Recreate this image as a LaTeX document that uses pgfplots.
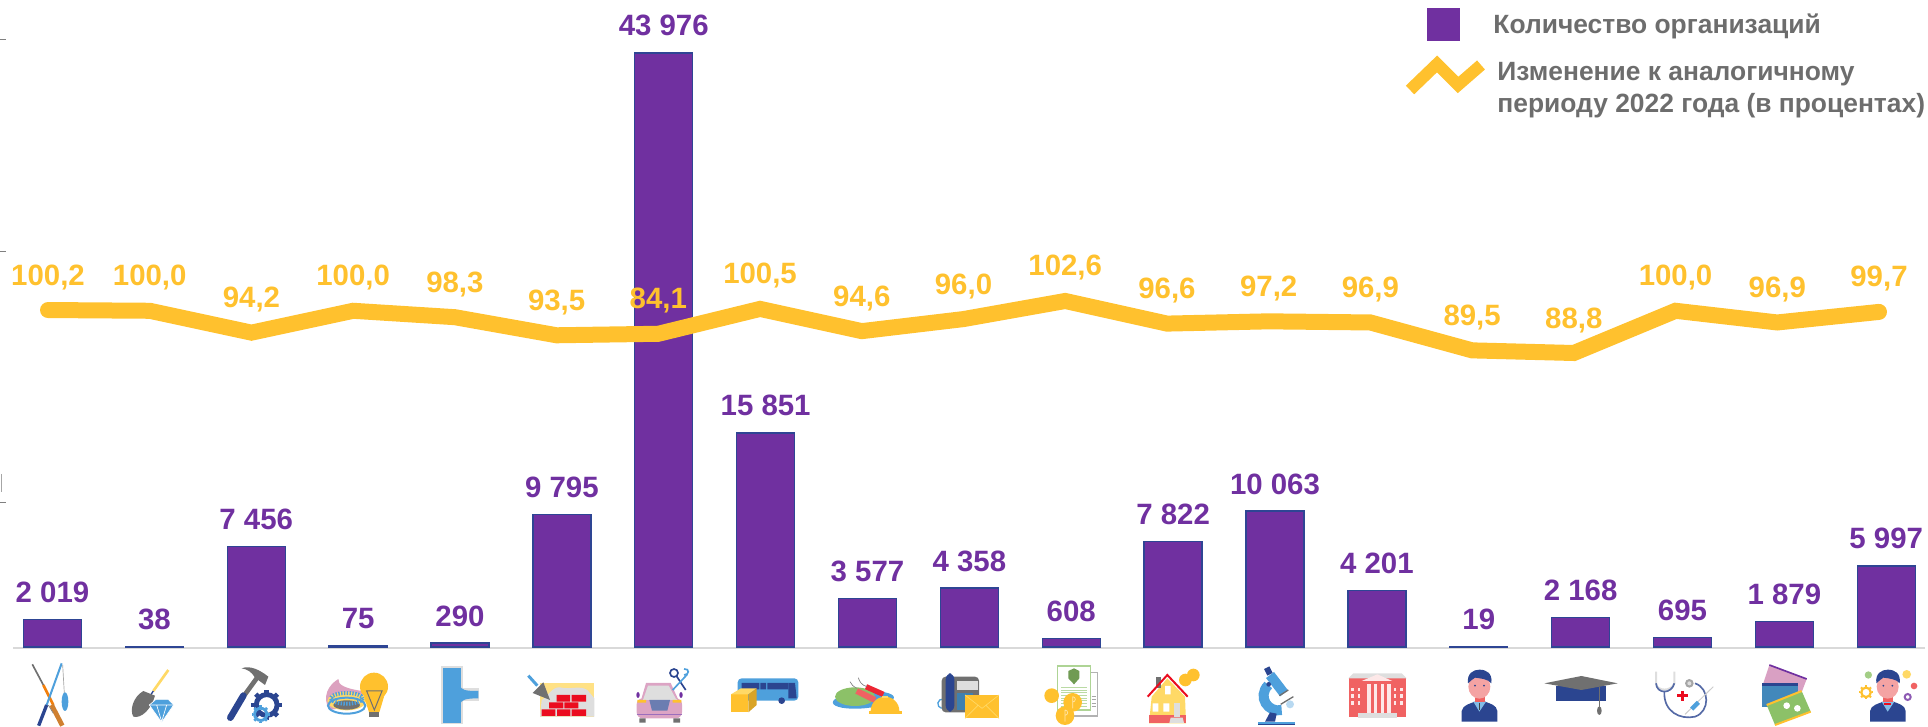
\documentclass[border=0pt]{standalone}
\usepackage{fontspec}
\setmainfont{Liberation Sans}
\usepackage{pgfplots}
\pgfplotsset{compat=1.18}

\definecolor{barpurple}{HTML}{7030A0}
\definecolor{baredge}{HTML}{2E4594}
\definecolor{lineyellow}{HTML}{FFC12E}
\definecolor{legendgray}{HTML}{6D6D6D}
\definecolor{icblue}{HTML}{2B4590}
\definecolor{iclight}{HTML}{4EA0DC}
\definecolor{icgray}{HTML}{707070}
\definecolor{icpale}{HTML}{DEDEDE}
\definecolor{icred}{HTML}{EB0C1F}
\definecolor{icrose}{HTML}{F06262}
\definecolor{icgreen}{HTML}{8CC168}
\definecolor{icpink}{HTML}{F4A3A3}
\definecolor{icsand}{HTML}{FFD966}

\tikzset{z/.style={line width=#1*0.16667pt}}
\newcommand{\gear}[4]{%
  \draw[#4,z=#3*0.32] (#1,#2) circle[radius=#3*0.68];
  \foreach \a in {0,45,...,315}
    \draw[#4,z=#3*0.3] ([shift={(#1,#2)}]\a:#3*0.8) -- ([shift={(#1,#2)}]\a:#3);
}
\newcommand{\man}{%
  \fill[icblue] (65,200) -- (65,168) .. controls (68,150) and (90,146) .. (105,140) -- (135,140)
    .. controls (150,146) and (170,150) .. (172,168) -- (172,200) -- cycle;
  \fill[iclight!70] (100,140) -- (118,170) -- (138,140) -- cycle;
  \fill[icrose] (104,118) rectangle (134,140);
  \fill[icpink] (118,95) ellipse [x radius=33, y radius=36];
  \fill[icblue] (84,85) .. controls (80,55) and (100,44) .. (118,44) .. controls (140,44) and (158,55) .. (154,85)
    .. controls (145,72) and (120,70) .. (105,68) .. controls (98,72) and (92,78) .. (84,85) -- cycle;
  \fill[icblue] (105,92) circle[radius=3] (132,92) circle[radius=3];
}

\begin{document}
\begin{tikzpicture}
  \useasboundingbox (0,0) rectangle (964pt,363.5pt);

  % marks in image pixels: ticks, base line, legend
  \begin{scope}[x=0.5pt,y=-0.5pt,shift={(0pt,363.5pt)}]
    \draw[gray,line width=0.5pt] (0,40) -- (6,40) (0,252) -- (6,252) (0,503) -- (6,503);
    \draw[gray!70,line width=0.4pt] (1,474) -- (1,492);
    \draw[black!15,line width=0.75pt] (13,648) -- (1925,648);
    \fill[barpurple] (1427,8) rectangle (1460,41);
    \draw[lineyellow,line width=6pt] (1410,90) -- (1437,64) -- (1458,85) -- (1481,65);
    \node[anchor=base west,inner sep=0,text=legendgray,font=\fontsize{13.2}{13.2}\selectfont\bfseries] at (1493,34) {Количество организаций};
    \node[anchor=base west,inner sep=0,text=legendgray,font=\fontsize{13.2}{13.2}\selectfont\bfseries] at (1497,81) {Изменение к аналогичному};
    \node[anchor=base west,inner sep=0,text=legendgray,font=\fontsize{13.2}{13.2}\selectfont\bfseries] at (1497,113) {периоду 2022 года (в процентах)};
  \end{scope}

  \begin{axis}[
    at={(0pt,0pt)}, anchor=south west,
    scale only axis, width=964pt, height=363.5pt,
    hide axis, clip=false,
    ybar, bar width=29pt,
    xmin=-0.5156, xmax=18.41,
    ymin=-5922, ymax=47898,
    point meta=explicit symbolic,
    nodes near coords,
    nodes near coords align={anchor=base,yshift=8.5pt},
    nodes near coords style={inner sep=0pt,text=barpurple,font=\fontsize{14.7}{14.7}\selectfont\bfseries},
  ]
    \addplot [fill=barpurple, draw=baredge, line width=0.7pt] coordinates {
      (0,2019)   [2 019]
      (1,38)     [38]
      (2,7456)   [7 456]
      (3,75)     [75]
      (4,290)    [290]
      (5,9795)   [9 795]
      (6,43976)  [43 976]
      (7,15851)  [15 851]
      (8,3577)   [3 577]
      (9,4358)   [4 358]
      (10,608)   [608]
      (11,7822)  [7 822]
      (12,10063) [10 063]
      (13,4201)  [4 201]
      (14,19)    [19]
      (15,2168)  [2 168]
      (16,695)   [695]
      (17,1879)  [1 879]
      (18,5997)  [5 997]
    };
  \end{axis}

  % the line sits on its own scale; two points are drawn away from their printed value
  \begin{axis}[
    at={(0pt,0pt)}, anchor=south west,
    scale only axis, width=964pt, height=363.5pt,
    hide axis, clip=false,
    xmin=-0.472, xmax=18.482,
    ymin=-10.4, ymax=182.44,
    point meta=explicit symbolic,
    nodes near coords,
    nodes near coords align={anchor=base,yshift=12.5pt},
    nodes near coords style={inner sep=0pt,text=lineyellow,font=\fontsize{14.7}{14.7}\selectfont\bfseries},
  ]
    \addplot [lineyellow, line width=8pt, line cap=round, mark=none] coordinates {
      (0,100.2)  [100,2]
      (1,100.0)  [100,0]
      (2,94.2)   [94,2]
      (3,100.0)  [100,0]
      (4,98.3)   [98,3]
      (5,93.5)   [93,5]
      (6,93.9)   [84,1]
      (7,100.5)  [100,5]
      (8,94.6)   [94,6]
      (9,97.8)   [96,0]
      (10,102.6) [102,6]
      (11,96.6)  [96,6]
      (12,97.2)  [97,2]
      (13,96.9)  [96,9]
      (14,89.5)  [89,5]
      (15,88.8)  [88,8]
      (16,100.0) [100,0]
      (17,96.9)  [96,9]
      (18,99.7)  [99,7]
    };
  \end{axis}

  % icons, strip 1
  \begin{scope}[x=0.16667pt,y=-0.16667pt,shift={(0pt,36pt)}]
    % fishing and hunting
    \draw[icgray,z=5] (97,28) -- (130,90);
    \draw[orange!80!brown,z=8] (130,90) -- (160,150);
    \draw[brown!75!orange,z=14] (155,150) -- (187,212);
    \draw[iclight,z=6] (185,25) -- (140,150);
    \draw[icblue,z=10] (140,150) -- (116,212);
    \draw[gray!70,z=2] (188,30) -- (193,115);
    \fill[iclight] (195,140) ellipse [x radius=10, y radius=28];
    \draw[gray,z=2] (145,150) -- (160,175);
    % mining
    \draw[icsand,z=8] (505,45) -- (460,108);
    \draw[icblue,z=4] (460,108) -- (432,150);
    \fill[icgray] (430,108) .. controls (400,125) and (388,165) .. (400,185) .. controls (425,192) and (455,160) .. (465,122) -- cycle;
    \fill[iclight,draw=white,z=2] (448,150) -- (468,133) -- (505,133) -- (521,150) -- (485,202) -- cycle;
    \draw[white,z=2] (448,150) -- (521,150) (470,150) -- (485,200) -- (500,150);
    % manufacturing
    \draw[icgray,z=14] (770,70) -- (730,125);
    \fill[icgray] (725,40) .. controls (750,30) and (780,45) .. (805,65) -- (795,90) -- (765,68) .. controls (755,50) and (740,42) .. (725,40) -- cycle;
    \draw[icblue,z=20,line cap=round] (730,122) -- (691,188);
    \gear{800}{150}{46}{icblue}
    \gear{782}{178}{27}{iclight}
    % gas and electricity
    \fill[icpink!60!violet!60] (988,165) .. controls (965,125) and (985,90) .. (1015,72) .. controls (1012,90) and (1040,102) .. (1088,108) -- (1090,150) -- cycle;
    \fill[icsand] (1040,138) ellipse [x radius=58, y radius=28];
    \draw[iclight,z=6] (1040,152) ellipse [x radius=56, y radius=24];
    \fill[icgray] (1040,150) ellipse [x radius=40, y radius=14];
    \draw[iclight,z=12,dash pattern=on 0.7pt off 0.7pt] (1040,130) ellipse [x radius=48, y radius=16];
    \fill[lineyellow] (1122,95) circle[radius=42];
    \fill[lineyellow] (1092,125) -- (1152,125) -- (1138,172) -- (1107,172) -- cycle;
    \fill[icgray] (1108,170) rectangle (1138,186);
    \draw[icgray,z=3] (1100,108) -- (1146,108) -- (1123,165) -- cycle;
    % water supply
    \fill[icpale] (1322,34) rectangle (1388,208);
    \fill[icpale] (1388,100) rectangle (1437,138);
    \fill[iclight] (1328,38) rectangle (1382,205);
    \fill[iclight] (1380,90) .. controls (1382,105) and (1395,108) .. (1435,108) -- (1435,130) .. controls (1395,130) and (1382,135) .. (1380,150) -- cycle;
  \end{scope}

  % icons, strip 2
  \begin{scope}[x=0.16667pt,y=-0.16667pt,shift={(240pt,36pt)}]
    % construction
    \fill[icsand!80] (180,83) rectangle (343,185);
    \fill[icpale] (180,185) -- (185,135) .. controls (205,125) and (215,95) .. (240,97) .. controls (270,105) and (300,90) .. (322,105) -- (343,130) -- (343,185) -- cycle;
    \fill[icred] (230,120) rectangle (270,140) (275,120) rectangle (318,140);
    \fill[icred] (207,142) rectangle (250,160) (253,142) rectangle (295,160);
    \fill[icred] (185,163) rectangle (226,183) (231,163) rectangle (271,183) (275,163) rectangle (318,183);
    \draw[iclight,z=9] (145,62) -- (172,92);
    \fill[icgray] (190,82) -- (158,114) -- (210,135) -- cycle;
    % trade and car repair
    \fill[barpurple] (474,120) ellipse [x radius=5, y radius=9] (603,120) ellipse [x radius=5, y radius=9];
    \fill[icpink!55!violet!55,rounded corners=3pt] (470,130) rectangle (606,190);
    \fill[icpink!55!violet!55] (484,132) -- (498,84) -- (572,84) -- (594,132) -- cycle;
    \fill[icpale] (490,132) -- (504,92) -- (566,92) -- (588,132) -- cycle;
    \fill[icpale] (490,131) rectangle (590,136);
    \fill[icblue!70!white] (508,135) -- (570,135) -- (562,167) -- (516,167) -- cycle;
    \fill[lineyellow] (472,135) rectangle (498,143) (578,135) rectangle (604,143);
    \draw[barpurple!70,z=2] (470,178) -- (606,178);
    \fill[icgray] (478,190) rectangle (497,203) (580,190) rectangle (600,203);
    \draw[icblue,z=5] (582,54) circle[radius=12];
    \draw[icblue,z=5] (590,64) -- (617,105);
    \draw[iclight,z=5] (622,58) -- (578,105);
    \draw[iclight,z=5] (612,42) .. controls (630,40) and (628,60) .. (612,60);
    % transport
    \fill[iclight,rounded corners=2pt] (773,70) rectangle (955,137);
    \fill[icblue] (785,84) rectangle (838,103) (841,84) rectangle (858,103) (862,84) rectangle (925,103);
    \fill[icblue] (925,84) -- (945,84) -- (950,130) -- (925,130) -- cycle;
    \fill[icblue] (905,137) circle[radius=10];
    \fill[lineyellow] (753,118) rectangle (805,172);
    \fill[icsand] (753,118) -- (783,100) -- (830,100) -- (805,118) -- cycle;
    \fill[lineyellow!85!black] (805,118) -- (830,100) -- (830,150) -- (805,172) -- cycle;
    % hotels and food
    \fill[iclight,rotate around={5:(1150,135)}] (1150,135) ellipse [x radius=92, y radius=25];
    \fill[icgreen] (1125,125) ellipse [x radius=60, y radius=28];
    \draw[icrose,z=18] (1130,108) -- (1185,135);
    \draw[icred!70!icrose,z=16] (1158,95) -- (1210,118);
    \draw[gray,z=2] (1110,80) .. controls (1115,90) and (1120,95) .. (1130,100) (1135,68) .. controls (1138,80) and (1145,90) .. (1160,95);
    \fill[lineyellow] (1172,168) arc[start angle=180,end angle=360,radius=43] -- cycle;
    \fill[lineyellow] (1167,168) rectangle (1265,178);
    \fill[icsand] (1205,122) rectangle (1225,128);
    % communications
    \draw[iclight,z=4] (1385,160) arc[start angle=100,end angle=350,radius=14];
    \fill[icgray,rounded corners=2pt] (1385,65) rectangle (1497,172);
    \fill[icpale] (1430,78) rectangle (1495,105);
    \fill[iclight!80!black] (1430,115) rectangle (1480,165);
    \fill[icblue,rounded corners=3pt] (1397,55) rectangle (1423,170);
    \fill[lineyellow] (1455,120) rectangle (1557,190);
    \draw[icsand,z=2] (1455,120) -- (1506,160) -- (1557,120) (1455,190) -- (1495,150) (1557,190) -- (1517,150);
  \end{scope}

  % icons, strip 3
  \begin{scope}[x=0.16667pt,y=-0.16667pt,shift={(480pt,36pt)}]
    % finance
    \draw[gray!60,fill=white,z=4] (330,52) rectangle (413,183);
    \draw[icgreen!70,fill=white,z=4] (293,33) rectangle (392,165);
    \fill[icgreen!80!black] (325,48) -- (342,40) -- (358,48) -- (358,70) -- (342,88) -- (325,70) -- cycle;
    \foreach \y in {98,106,...,154} \draw[icgreen!60,z=3] (303,\y) -- (380,\y);
    \foreach \y in {125,135,...,160} \draw[gray!70,z=3] (395,\y) -- (408,\y);
    \fill[lineyellow] (275,122) circle[radius=22] (338,142) circle[radius=28] (315,182) circle[radius=28];
    \draw[white!60!lineyellow,z=2] (338,125) -- (338,160) (338,125) arc[start angle=-90,end angle=90,radius=8] (315,165) -- (315,200) (315,165) arc[start angle=-90,end angle=90,radius=8];
    % real estate
    \fill[icsand] (575,125) -- (622,70) -- (675,125) -- (678,205) -- (567,205) -- cycle;
    \fill[icgray] (587,65) rectangle (602,100);
    \fill[icrose] (567,180) rectangle (678,204);
    \draw[icred,z=6] (563,125) -- (622,60) -- (683,125);
    \fill[icpale] (642,145) rectangle (660,185);
    \fill[icpale] (632,188) -- (668,188) -- (672,204) -- (628,204) -- cycle;
    \fill[white] (578,145) rectangle (595,170) (610,145) rectangle (628,170) (615,93) rectangle (632,118);
    \fill[lineyellow] (676,75) circle[radius=19] (700,60) circle[radius=19];
    % science
    \draw[icblue,z=18] (920,38) -- (930,58);
    \draw[iclight,z=30] (930,60) -- (972,115);
    \draw[iclight,z=30] (925,90) .. controls (890,125) and (925,175) .. (965,165);
    \fill[icblue] (926,88) circle[radius=7];
    \draw[icgray,z=4] (958,122) -- (985,105) (962,148) -- (1000,125);
    \fill[iclight!40] (990,148) circle[radius=12];
    \fill[icblue] (915,200) -- (930,172) -- (950,176) -- (945,200) -- cycle;
    \fill[iclight] (893,200) rectangle (1005,206);
    \fill[icblue] (893,206) rectangle (1005,211);
    % public administration
    \fill[icrose] (1167,70) rectangle (1338,187);
    \fill[icpale] (1165,70) -- (1180,55) -- (1325,55) -- (1340,70) -- cycle;
    \fill[white!85!icrose] (1205,78) -- (1252,58) -- (1297,78) -- cycle;
    \foreach \x in {1222,1242,1262,1282} \fill[white!85!icrose] (\x,88) rectangle (\x+10,175);
    \foreach \x in {1177,1197,1305,1325} \foreach \y in {98,118,138}
      \fill[white!85!icrose] (\x-4,\y) rectangle (\x+4,\y+11);
    \fill[icpale] (1195,175) rectangle (1310,189);
  \end{scope}

  % icons, strip 4
  \begin{scope}[x=0.16667pt,y=-0.16667pt,shift={(720pt,36pt)}]
    % security, education
    \man
    \draw[icgray!60!black,z=4] (118,143) -- (118,165);
    \fill[icblue] (348,92) rectangle (498,139);
    \fill[icgray] (313,85) -- (424,63) -- (533,85) -- (424,105) -- cycle;
    \draw[icgray,z=3] (478,95) -- (478,155);
    \fill[icgray] (478,167) ellipse [x radius=7, y radius=13];
    % health
    \draw[icpale,z=6] (648,50) -- (648,85) .. controls (650,110) and (695,110) .. (703,85) -- (703,50);
    \draw[icblue!80,z=5] (648,85) .. controls (650,118) and (695,118) .. (703,85);
    \draw[icblue!80,z=5] (673,110) .. controls (670,170) and (720,195) .. (765,185) .. controls (810,170) and (810,100) .. (765,85);
    \fill[gray!70] (748,85) circle[radius=13];
    \fill[icpale] (748,85) circle[radius=6];
    \draw[icred,z=9] (727,108) -- (727,138) (712,123) -- (743,123);
    \draw[gray!40,z=3] (735,178) -- (820,95);
    \draw[iclight,z=13] (755,162) -- (775,142);
    % culture
    \fill[icpink!50!violet!55] (988,30) -- (1100,72) -- (1080,125) -- (968,90) -- cycle;
    \draw[barpurple,z=5] (988,30) -- (1100,72);
    \fill[iclight!85!black] (965,85) rectangle (1075,155);
    \fill[icblue] (965,85) rectangle (1075,92);
    \fill[icgreen] (980,150) -- (1085,108) -- (1112,170) -- (1005,210) -- cycle;
    \draw[lineyellow,z=6] (980,150) -- (1085,108) (1005,210) -- (1112,170);
    \fill[white] (1040,152) circle[radius=10] (1072,160) circle[radius=10];
    % other services
    \begin{scope}[xshift=204.17pt]
      \man
    \end{scope}
    \fill[icred] (1332,143) rectangle (1352,150);
    \gear{1278}{112}{21}{lineyellow}
    \fill[icgreen!80] (1285,60) circle[radius=11];
    \fill[icsand] (1400,58) circle[radius=13];
    \fill[icrose] (1422,93) circle[radius=10];
    \draw[barpurple!80,z=6] (1403,126) circle[radius=9];
  \end{scope}
\end{tikzpicture}
\end{document}
